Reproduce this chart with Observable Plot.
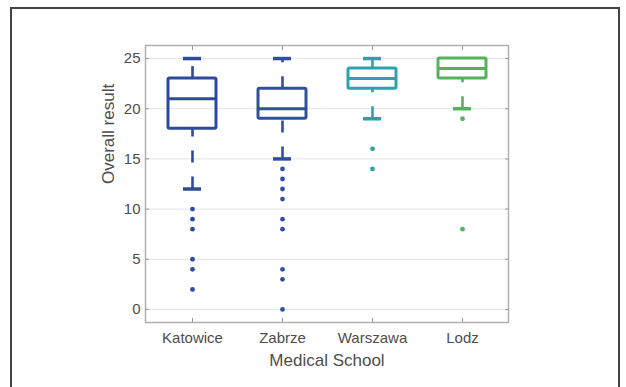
<!DOCTYPE html>
<html>
<head>
<meta charset="utf-8">
<script src="https://cdn.jsdelivr.net/npm/d3@7"></script>
<script src="https://cdn.jsdelivr.net/npm/@observablehq/plot@0.6"></script>
<style>
  html, body { margin: 0; padding: 0; background: #fff; }
  #wrap { position: relative; width: 626px; height: 387px; overflow: hidden; }
  #border { position: absolute; left: 10px; top: 7px; width: 610px; height: 420px; border: 2px solid #444; box-sizing: border-box; }
  #chart { position: absolute; left: 0; top: 0; }
</style>
</head>
<body>
<div id="wrap"><div id="border"></div><div id="chart"></div></div>
<script>
const schools = ["Katowice", "Zabrze", "Warszawa", "Lodz"];
const colors = ["#2d4b9b", "#30509f", "#2aa3ae", "#55b25c"];
const whiskerLo = [12, 15, 19, 20];
const q1 = [18, 19, 22, 23];
const median = [21, 20, 23, 24];
const q3 = [23, 22, 24, 25];
const whiskerHi = [25, 25, 25, 25];
const outliers = {
  Katowice: [10, 9, 8, 5, 4, 2],
  Zabrze: [14, 13, 12, 11, 9, 8, 4, 3, 0],
  Warszawa: [16, 14],
  Lodz: [19, 8]
};
const yTicks = [0, 5, 10, 15, 20, 25];
const xTitle = "Medical School";
const yTitle = "Overall result";

const stats = schools.map((s, i) => ({school: s, lo: whiskerLo[i], q1: q1[i], med: median[i], q3: q3[i], hi: whiskerHi[i]}));
const upper = stats.filter(d => d.hi > d.q3);
const lower = stats.filter(d => d.lo < d.q1);
const outs = schools.flatMap(s => outliers[s].map(v => ({school: s, value: v})));

const textColor = "#4d4d4d";
const plot = Plot.plot({
  width: 626,
  height: 387,
  marginLeft: 145,
  marginRight: 118,
  marginTop: 45,
  marginBottom: 65,
  style: {fontFamily: "'Liberation Sans', Arial, sans-serif", color: textColor, background: "transparent"},
  x: {type: "band", domain: schools, padding: 0, axis: null},
  y: {domain: [-1.3, 26.3], axis: null},
  color: {domain: schools, range: colors},
  marks: [
    Plot.gridY(yTicks, {stroke: "#e4e4e4", strokeOpacity: 1, strokeWidth: 1}),
    Plot.frame({stroke: "#b0b0b0", strokeWidth: 1.5}),
    // inward tick marks
    Plot.axisY(yTicks, {anchor: "left", tickSize: 4, insetLeft: 4, fill: "none", stroke: "#999", label: null}),
    Plot.axisY(yTicks, {anchor: "right", tickSize: 4, insetRight: 4, fill: "none", stroke: "#999", label: null}),
    Plot.axisX({anchor: "bottom", tickSize: 4, insetBottom: 4, fill: "none", stroke: "#999", label: null}),
    Plot.axisX({anchor: "top", tickSize: 4, insetTop: 4, fill: "none", stroke: "#999", label: null}),
    // tick labels
    Plot.axisY(yTicks, {anchor: "left", tickSize: 0, tickPadding: 5, fontSize: 15, label: null, fill: textColor}),
    Plot.axisX({anchor: "bottom", tickSize: 0, tickPadding: 10, fontSize: 15, label: null, fill: textColor}),
    // whiskers (dashed)
    Plot.ruleX(upper, {x: "school", y1: "q3", y2: "hi", stroke: "school", strokeWidth: 2.6, strokeDasharray: "12,14"}),
    Plot.ruleX(lower, {x: "school", y1: "lo", y2: "q1", stroke: "school", strokeWidth: 2.6, strokeDasharray: "12,14"}),
    // whisker caps
    Plot.tickY(upper, {x: "school", y: "hi", stroke: "school", strokeWidth: 3.5, insetLeft: 36, insetRight: 36}),
    Plot.tickY(lower, {x: "school", y: "lo", stroke: "school", strokeWidth: 3.5, insetLeft: 36, insetRight: 36}),
    // boxes
    Plot.barY(stats, {x: "school", y1: "q1", y2: "q3", fill: "none", stroke: "school", strokeWidth: 3, insetLeft: 21, insetRight: 21, rx: 1.5}),
    Plot.tickY(stats, {x: "school", y: "med", stroke: "school", strokeWidth: 3, insetLeft: 21, insetRight: 21}),
    // outliers
    Plot.dot(outs, {x: "school", y: "value", fill: "school", r: 2.4, stroke: "none"}),
    // axis titles
    Plot.text([xTitle], {frameAnchor: "bottom", dy: 38, lineAnchor: "middle", fontSize: 17, fill: textColor}),
    Plot.text([yTitle], {frameAnchor: "left", dx: -37, rotate: -90, lineAnchor: "middle", fontSize: 17, fill: textColor})
  ]
});
document.getElementById("chart").appendChild(plot);
</script>
</body>
</html>
